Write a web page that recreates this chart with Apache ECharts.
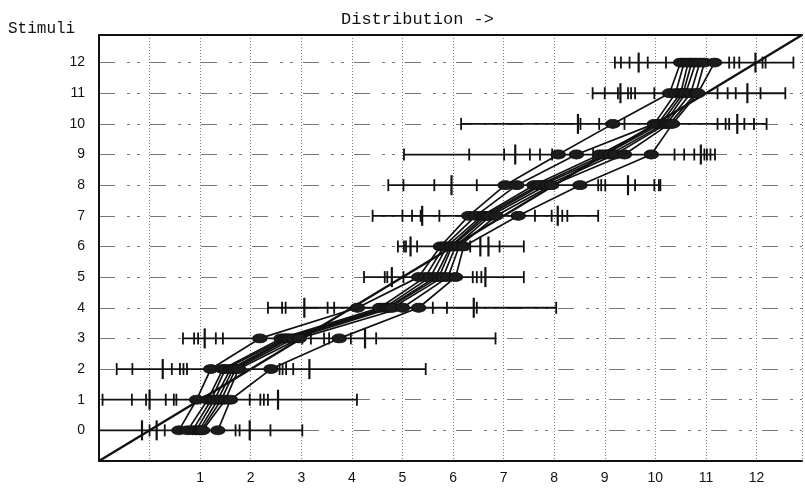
<!DOCTYPE html>
<html>
<head>
<meta charset="utf-8">
<script src="https://cdn.jsdelivr.net/npm/echarts@6/dist/echarts.min.js"></script>
<style>
  html, body { margin: 0; padding: 0; background: #fff; }
  #chart { width: 805px; height: 489px; }
</style>
</head>
<body>
<div id="chart"></div>
<script>
// Stimulus levels (rows) and axis tick labels
const stimuli = [0, 1, 2, 3, 4, 5, 6, 7, 8, 9, 10, 11, 12];
const xTickLabels = [1, 2, 3, 4, 5, 6, 7, 8, 9, 10, 11, 12];

// Range of the response distribution for each stimulus
const rangeLow  = [-1.0, -0.93, -0.65, 0.66, 2.34, 4.24, 4.91, 4.41, 4.72, 5.03, 6.16, 8.76, 9.2];
const rangeHigh = [3.02, 4.1, 5.46, 6.84, 8.04, 7.4, 7.4, 8.87, 10.1, 11.18, 12.2, 12.57, 12.73];

// Individual responses per stimulus (repeated values stack into taller marks)
const obs0  = [-0.15, -0.15, 0.0, 0.14, 0.14, 0.3, 1.7, 1.78, 1.98, 1.98, 2.39];
const obs1  = [-0.35, -0.07, 0.0, 0.0, 0.32, 0.48, 0.53, 1.98, 2.19, 2.26, 2.34, 2.54, 2.54];
const obs2  = [-0.34, 0.26, 0.26, 0.44, 0.6, 0.67, 0.74, 2.57, 2.63, 2.7, 2.84, 3.16, 3.16];
const obs3  = [0.88, 0.96, 1.09, 1.09, 1.31, 1.45, 3.02, 3.19, 3.45, 3.55, 3.98, 4.26, 4.26, 4.48];
const obs4  = [2.62, 2.69, 3.06, 3.06, 3.52, 3.65, 5.6, 5.88, 6.41, 6.41, 6.47];
const obs5  = [4.65, 4.7, 4.79, 4.79, 5.02, 6.39, 6.47, 6.56, 6.64, 6.64];
const obs6  = [5.03, 5.07, 5.16, 5.16, 5.29, 6.34, 6.54, 6.54, 6.7, 6.7, 6.92];
const obs7  = [5.0, 5.19, 5.36, 5.39, 5.39, 5.73, 7.62, 7.95, 8.07, 8.07, 8.16, 8.26];
const obs8  = [5.02, 5.63, 5.97, 5.97, 6.47, 8.87, 8.93, 9.01, 9.46, 9.46, 9.6, 9.98, 10.07];
const obs9  = [6.32, 7.01, 7.23, 7.23, 7.52, 7.72, 7.96, 8.77, 10.38, 10.57, 10.77, 10.9, 10.9, 10.97, 11.02, 11.09];
const obs10 = [8.47, 8.47, 8.52, 8.89, 9.39, 11.23, 11.39, 11.46, 11.62, 11.62, 11.76, 11.95];
const obs11 = [9.0, 9.26, 9.31, 9.31, 9.46, 9.52, 9.6, 9.98, 11.23, 11.43, 11.59, 11.82, 11.82, 12.08];
const obs12 = [9.32, 9.49, 9.67, 9.67, 9.85, 10.21, 11.46, 11.56, 11.66, 11.98, 11.98, 12.12, 12.18];
const observations = [obs0, obs1, obs2, obs3, obs4, obs5, obs6, obs7, obs8, obs9, obs10, obs11, obs12];

// Mean response of each subject, stimulus 0..12
const subject1 = [0.58, 0.93, 1.21, 2.18, 4.11, 5.32, 5.75, 6.31, 7.03, 8.08, 9.16, 10.28, 10.5];
const subject2 = [0.75, 1.15, 1.45, 2.6, 4.55, 5.45, 5.82, 6.45, 7.26, 8.44, 9.98, 10.4, 10.57];
const subject3 = [0.85, 1.22, 1.5, 2.67, 4.64, 5.55, 5.88, 6.57, 7.6, 8.9, 10.05, 10.5, 10.65];
const subject4 = [0.92, 1.28, 1.6, 2.72, 4.7, 5.65, 5.95, 6.62, 7.69, 9.0, 10.11, 10.55, 10.72];
const subject5 = [0.98, 1.35, 1.65, 2.77, 4.73, 5.72, 5.98, 6.68, 7.75, 9.1, 10.18, 10.6, 10.8];
const subject6 = [1.02, 1.42, 1.7, 2.85, 4.8, 5.8, 6.05, 6.74, 7.85, 9.2, 10.22, 10.7, 10.88];
const subject7 = [1.05, 1.5, 1.76, 2.96, 5.0, 5.9, 6.12, 6.85, 7.95, 9.39, 10.28, 10.8, 10.97];
const subject8 = [1.35, 1.6, 2.4, 3.75, 5.32, 6.05, 6.21, 7.29, 8.51, 9.92, 10.34, 10.84, 11.17];
const subjects = [subject1, subject2, subject3, subject4, subject5, subject6, subject7, subject8];

// Axis extent (identity line runs corner to corner)
const axisMin = -1;
const axisMax = 12.9;

// ---- build series data ----
const rangeData = stimuli.map((s, i) => [rangeLow[i], s, rangeHigh[i]]);

const tickData = [];
observations.forEach((row, i) => {
  const counts = {};
  row.forEach(v => { counts[v] = (counts[v] || 0) + 1; });
  Object.keys(counts).forEach(k => tickData.push([parseFloat(k), stimuli[i], counts[k]]));
});

const ink = '#111';

const subjectSeries = subjects.map((vals, k) => ({
  type: 'line',
  name: 'S' + (k + 1),
  data: vals.map((v, i) => [v, stimuli[i]]),
  symbol: 'circle',
  symbolSize: [14, 9],
  showSymbol: true,
  lineStyle: { color: ink, width: 1.7 },
  itemStyle: { color: '#1c1c1c', borderColor: ink, borderWidth: 1 },
  z: 5,
  silent: true,
  animation: false
}));

const chart = echarts.init(document.getElementById('chart'), null, { renderer: 'canvas' });

chart.setOption({
  backgroundColor: '#fff',
  animation: false,
  title: {
    text: 'Distribution ->',
    left: 336,
    top: 6,
    textStyle: { fontFamily: 'Liberation Mono', fontSize: 17, fontWeight: 'normal', color: ink }
  },
  graphic: [{
    type: 'text',
    left: 8,
    top: 21,
    style: { text: 'Stimuli', font: '16px "Liberation Mono"', fill: ink }
  }],
  grid: { left: 99, right: 0, top: 35, bottom: 28 },
  xAxis: [{
    type: 'value',
    min: axisMin,
    max: axisMax,
    interval: 1,
    axisLine: { show: true, onZero: false, lineStyle: { color: ink, width: 2 } },
    axisTick: { show: false },
    axisLabel: {
      margin: 10,
      fontFamily: 'Liberation Sans',
      fontSize: 14,
      color: ink,
      formatter: v => (xTickLabels.indexOf(v) >= 0 ? String(v) : '')
    },
    splitLine: { show: true, lineStyle: { color: '#777', width: 1, type: [1, 2] } }
  }, {
    type: 'value',
    position: 'top',
    min: axisMin,
    max: axisMax,
    axisLine: { show: true, onZero: false, lineStyle: { color: ink, width: 2 } },
    axisTick: { show: false },
    axisLabel: { show: false },
    splitLine: { show: false }
  }],
  yAxis: {
    type: 'value',
    min: axisMin,
    max: axisMax,
    interval: 1,
    axisLine: { show: true, onZero: false, lineStyle: { color: ink, width: 2 } },
    axisTick: { show: false },
    axisLabel: {
      margin: 14,
      fontFamily: 'Liberation Sans',
      fontSize: 14,
      color: ink,
      formatter: v => (stimuli.indexOf(v) >= 0 ? String(v) : '')
    },
    splitLine: { show: true, lineStyle: { color: '#777', width: 1, type: [16, 12, 3, 7, 3, 10] } }
  },
  series: [
    {
      // identity line
      type: 'line',
      data: [[axisMin, axisMin], [axisMax, axisMax]],
      symbol: 'none',
      lineStyle: { color: ink, width: 2.4 },
      z: 3,
      silent: true
    },
    {
      // response range per stimulus
      type: 'custom',
      data: rangeData,
      encode: { x: [0, 2], y: 1 },
      z: 2,
      silent: true,
      renderItem: (params, api) => {
        const a = api.coord([api.value(0), api.value(1)]);
        const b = api.coord([api.value(2), api.value(1)]);
        const st = { stroke: ink, lineWidth: 1.8 };
        return {
          type: 'group',
          children: [
            { type: 'line', shape: { x1: a[0], y1: a[1], x2: b[0], y2: b[1] }, style: st },
            { type: 'line', shape: { x1: a[0], y1: a[1] - 6, x2: a[0], y2: a[1] + 6 }, style: st },
            { type: 'line', shape: { x1: b[0], y1: b[1] - 6, x2: b[0], y2: b[1] + 6 }, style: st }
          ]
        };
      }
    },
    {
      // individual responses
      type: 'custom',
      data: tickData,
      encode: { x: 0, y: 1 },
      z: 2,
      silent: true,
      renderItem: (params, api) => {
        const p = api.coord([api.value(0), api.value(1)]);
        const h = 6 + 4 * (api.value(2) - 1);
        return {
          type: 'line',
          shape: { x1: p[0], y1: p[1] - h, x2: p[0], y2: p[1] + h },
          style: { stroke: ink, lineWidth: api.value(2) > 1 ? 2.2 : 1.8 }
        };
      }
    }
  ].concat(subjectSeries)
});
</script>
</body>
</html>
